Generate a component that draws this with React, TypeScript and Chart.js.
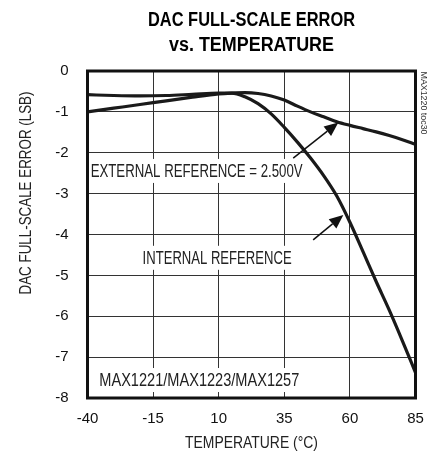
import React, { useEffect, useRef } from "react";
import { Chart, registerables } from "chart.js";

Chart.register(...registerables);

// ---- data ----
const temps = [-40, -30, -20, -10, 0, 10, 15, 20, 25, 30, 35, 40, 45, 50, 55, 60, 65, 70, 75, 80, 85];
const internalRef = [-0.58, -0.6, -0.61, -0.6, -0.57, -0.54, -0.54, -0.63, -0.8, -1.05, -1.38, -1.74, -2.13, -2.56, -3.06, -3.7, -4.42, -5.15, -5.85, -6.6, -7.38];
const externalRef = [-1.0, -0.91, -0.82, -0.73, -0.64, -0.56, -0.54, -0.53, -0.55, -0.61, -0.71, -0.86, -1.0, -1.12, -1.24, -1.33, -1.41, -1.49, -1.58, -1.68, -1.79];
const xTicks = [-40, -15, 10, 35, 60, 85];
const yTicks = [0, -1, -2, -3, -4, -5, -6, -7, -8];

const titleLines = ["DAC FULL-SCALE ERROR", "vs. TEMPERATURE"];
const xTitle = "TEMPERATURE (°C)";
const yTitle = "DAC FULL-SCALE ERROR (LSB)";
const sideNote = "MAX1220 toc30";

const FAM = '"Liberation Sans", Arial, sans-serif';

// annotations in data coordinates
const labels = [
  { text: "EXTERNAL REFERENCE = 2.500V", t: -38.8, v: -2.445, w: 212 },
  { text: "INTERNAL REFERENCE", t: -19.0, v: -4.57, w: 149 },
  { text: "MAX1221/MAX1223/MAX1257", t: -35.5, v: -7.56, w: 200 },
];
const arrows = [
  { from: [38.4, -2.13], to: [55.6, -1.26] },
  { from: [46.0, -4.13], to: [57.5, -3.52] },
];

const toPts = (vals: number[]) => temps.map((t, i) => ({ x: t, y: vals[i] }));

function fitText(ctx: CanvasRenderingContext2D, text: string, x: number, y: number, width: number, align: "left" | "center") {
  const natural = ctx.measureText(text).width;
  const sx = width / natural;
  ctx.save();
  ctx.translate(x, y);
  ctx.scale(sx, 1);
  ctx.textAlign = align;
  ctx.fillText(text, 0, 0);
  ctx.restore();
}

const decor = {
  id: "decor",
  beforeDatasetsDraw(chart: any) {
    const { ctx, scales } = chart;
    const x = scales.x, y = scales.y;
    ctx.save();
    ctx.font = `17.5px ${FAM}`;
    ctx.textBaseline = "middle";
    labels.forEach((l) => {
      const px = x.getPixelForValue(l.t);
      const py = y.getPixelForValue(l.v);
      ctx.fillStyle = "#fff";
      ctx.fillRect(px - 3, py - 12, l.w + 6, 24);
      ctx.fillStyle = "#222";
      fitText(ctx, l.text, px, py + 1, l.w, "left");
    });
    ctx.restore();
  },
  afterDatasetsDraw(chart: any) {
    const { ctx, scales, chartArea } = chart;
    const x = scales.x, y = scales.y;
    ctx.save();
    arrows.forEach((a) => {
      const x1 = x.getPixelForValue(a.from[0]), y1 = y.getPixelForValue(a.from[1]);
      const x2 = x.getPixelForValue(a.to[0]), y2 = y.getPixelForValue(a.to[1]);
      const ang = Math.atan2(y2 - y1, x2 - x1);
      const hl = 14, hw = 6;
      const bx = x2 - hl * Math.cos(ang), by = y2 - hl * Math.sin(ang);
      ctx.strokeStyle = "#111";
      ctx.lineWidth = 1.5;
      ctx.beginPath();
      ctx.moveTo(x1, y1);
      ctx.lineTo(bx, by);
      ctx.stroke();
      ctx.fillStyle = "#111";
      ctx.beginPath();
      ctx.moveTo(x2, y2);
      ctx.lineTo(bx + hw * Math.sin(ang), by - hw * Math.cos(ang));
      ctx.lineTo(bx - hw * Math.sin(ang), by + hw * Math.cos(ang));
      ctx.closePath();
      ctx.fill();
    });
    ctx.strokeStyle = "#111";
    ctx.lineWidth = 3;
    ctx.strokeRect(chartArea.left, chartArea.top, chartArea.right - chartArea.left, chartArea.bottom - chartArea.top);
    ctx.restore();
  },
  afterDraw(chart: any) {
    const { ctx, chartArea } = chart;
    ctx.save();
    const cx = (chartArea.left + chartArea.right) / 2;
    ctx.fillStyle = "#000";
    ctx.textBaseline = "middle";
    ctx.font = `bold 20px ${FAM}`;
    fitText(ctx, titleLines[0], cx, 20, 207, "center");
    fitText(ctx, titleLines[1], cx, 45, 165, "center");
    // x title
    ctx.font = `16px ${FAM}`;
    ctx.fillStyle = "#222";
    fitText(ctx, xTitle, cx, 444, 133, "center");
    // y title
    ctx.save();
    ctx.translate(26, 193);
    ctx.rotate(-Math.PI / 2);
    ctx.font = `17px ${FAM}`;
    ctx.fillStyle = "#222";
    fitText(ctx, yTitle, 0, 0, 203, "center");
    ctx.restore();
    // side note
    ctx.save();
    ctx.translate(423, 103);
    ctx.rotate(Math.PI / 2);
    ctx.font = `9px ${FAM}`;
    ctx.fillStyle = "#333";
    fitText(ctx, sideNote, 0, 0, 63, "center");
    ctx.restore();
    ctx.restore();
  },
};

export default function App() {
  const ref = useRef<HTMLCanvasElement | null>(null);
  useEffect(() => {
    if (!ref.current) return;
    const mkSet = (label: string, vals: number[]) => ({
      label,
      data: toPts(vals),
      borderColor: "#1a1a1a",
      borderWidth: 3.2,
      pointRadius: 0,
      cubicInterpolationMode: "monotone",
      fill: false,
    });
    const chart = new Chart(ref.current, {
      type: "line",
      data: {
        datasets: [mkSet("Internal reference", internalRef), mkSet("External reference = 2.500V", externalRef)],
      },
      options: {
        animation: false,
        responsive: false,
        devicePixelRatio: 1,
        layout: { padding: { top: 71, right: 23.5, left: 0, bottom: 0 } },
        plugins: { legend: { display: false }, tooltip: { enabled: false }, title: { display: false } },
        scales: {
          x: {
            type: "linear",
            min: -40,
            max: 85,
            afterBuildTicks: (s: any) => { s.ticks = xTicks.map((v) => ({ value: v })); },
            afterFit: (s: any) => { s.height = 61; },
            ticks: { font: { family: FAM, size: 15 }, color: "#111", padding: 12, maxRotation: 0 },
            grid: { color: "#333", lineWidth: 1, drawTicks: false },
            border: { display: false },
            title: { display: false },
          },
          y: {
            type: "linear",
            min: -8,
            max: 0,
            afterBuildTicks: (s: any) => { s.ticks = yTicks.map((v) => ({ value: v })); },
            afterFit: (s: any) => { s.width = 87.5; },
            ticks: { font: { family: FAM, size: 15 }, color: "#111", padding: 19 },
            grid: { color: "#333", lineWidth: 1, drawTicks: false },
            border: { display: false },
          },
        },
      },
      plugins: [decor],
    } as any);
    return () => chart.destroy();
  }, []);
  return (
    <div style={{ position: "absolute", left: 0, top: 0, width: 439, height: 459, background: "#fff" }}>
      <canvas ref={ref} width={439} height={459} style={{ display: "block", width: 439, height: 459 }} />
    </div>
  );
}
